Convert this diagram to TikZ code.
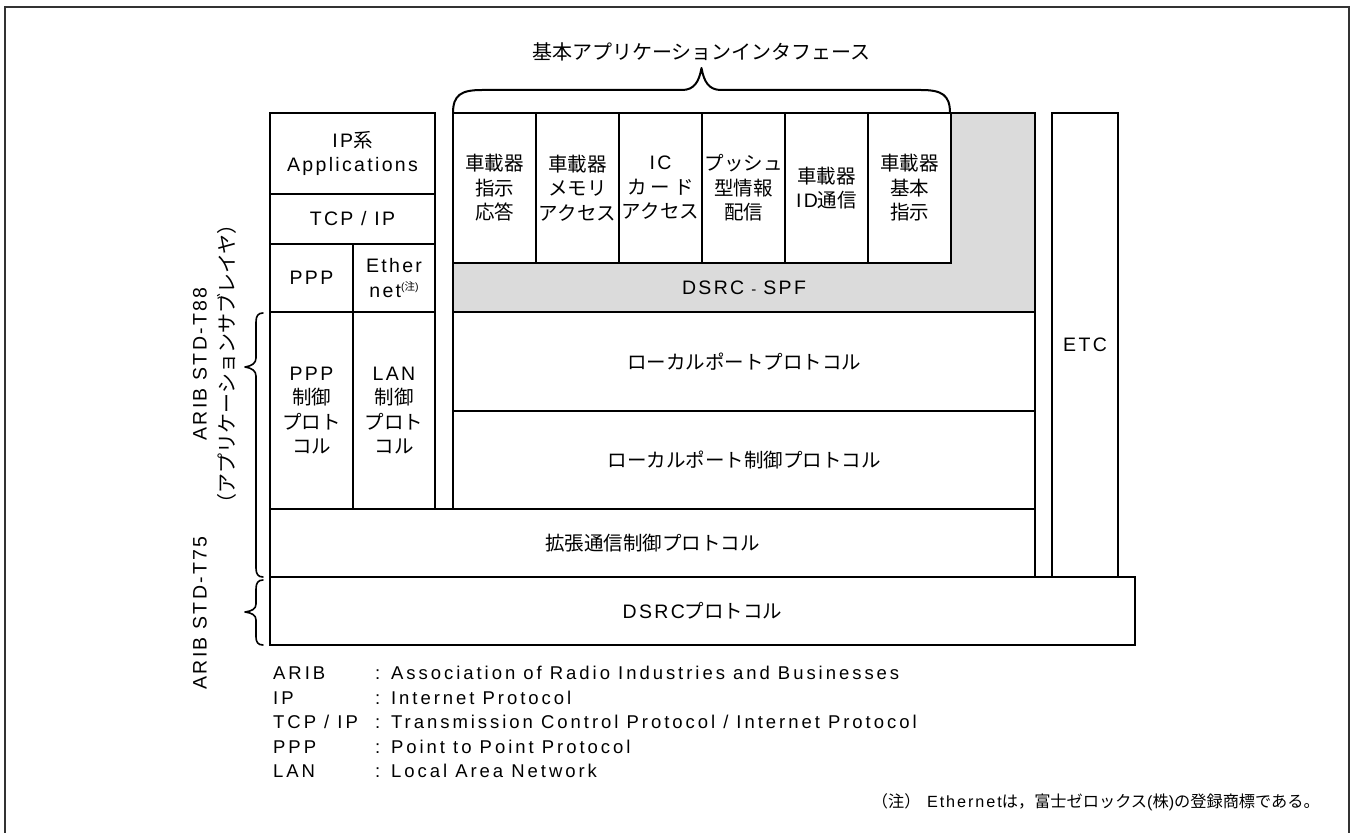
\documentclass[tikz,border=0pt]{standalone}
\usepackage{fontspec}
\setmainfont{Liberation Sans}[LetterSpace=12]
\newfontfamily\lgf{Liberation Sans}[LetterSpace=16]
\newfontfamily\jp{Noto Sans CJK JP}
\newcommand\jj[1]{{\jp #1}}
\begin{document}
\begin{tikzpicture}[x=1pt,y=-1pt,
  box/.style={draw=black, line width=2pt, fill=white, anchor=north west, inner sep=0pt, outer sep=0pt, align=center, font=\fontsize{19.5}{24.5}\selectfont},
  gbox/.style={box, fill=black!14},
  txt/.style={inner sep=0pt, align=center, font=\fontsize{19.5}{24.5}\selectfont},
  vlab/.style={inner sep=0pt, rotate=90, font=\fontsize{19.5}{24}\selectfont},
  lg/.style={inner sep=0pt, anchor=west, font=\lgf\fontsize{18.5}{22}\selectfont},
  brc/.style={line width=1.6pt, line join=round, line cap=round},
  frm/.style={line width=1.5pt, draw=black!80}]
\useasboundingbox (0,0) rectangle (1356,832);
% frame
\draw[frm] (5,845) -- (5,7) -- (1349,7) -- (1349,845);
% left stack
\node[box, minimum width=165, minimum height=81] (ipapp) at (270,113) {IP\jj{系}\\Applications};
\node[box, minimum width=165, minimum height=50] (tcpip) at (270,194) {TCP / IP};
\node[box, minimum width=83, minimum height=68] (ppp) at (270,244) {PPP};
\node[box, minimum width=82, minimum height=68] (ether) at (353,244) {Ether\\net\raisebox{7pt}{\fontsize{10.5}{10}\selectfont(\jj{注})}};
\node[box, minimum width=83, minimum height=197] (pppc) at (270,312) {PPP\\\jj{制御}\\\jj{プロト}\\\jj{コル}};
\node[box, minimum width=82, minimum height=197] (lanc) at (353,312) {LAN\\\jj{制御}\\\jj{プロト}\\\jj{コル}};
% application stack
\node[gbox, minimum width=582, minimum height=199] (spf) at (453,113) {};
\node[txt] (spft) at (744,288) {DSRC\kern7pt{\fontsize{15}{15}\selectfont -}\kern7pt SPF};
\node[box, minimum width=83, minimum height=150] (a1) at (453,113) {\jj{車載器}\\\jj{指示}\\\jj{応答}};
\node[box, minimum width=83, minimum height=150] (a2) at (536,113) {\jj{車載器}\\\jj{メモリ}\\\jj{アクセス}};
\node[box, minimum width=83, minimum height=150] (a3) at (619,113) {IC\\\jj{カ\kern4ptー\kern4ptド}\\\jj{アクセス}};
\node[box, minimum width=83, minimum height=150] (a4) at (702,113) {\jj{プッシュ}\\\jj{型情報}\\\jj{配信}};
\node[box, minimum width=83, minimum height=150] (a5) at (785,113) {\jj{車載器}\\ID\jj{通信}};
\node[box, minimum width=83, minimum height=150] (a6) at (868,113) {\jj{車載器}\\\jj{基本}\\\jj{指示}};
\node[box, minimum width=582, minimum height=99] (lp) at (453,312) {\jj{ローカルポートプロトコル}};
\node[box, minimum width=582, minimum height=98] (lpc) at (453,411) {\jj{ローカルポート制御プロトコル}};
\node[box, minimum width=765, minimum height=68] (ext) at (270,509) {\jj{拡張通信制御プロトコル}};
\node[box, minimum width=66, minimum height=464] (etc) at (1052,113) {ETC};
\node[box, minimum width=865, minimum height=68] (dsrc) at (270,577) {DSRC\jj{プロトコル}};
% top brace and title
\draw[brc, line width=2pt] (453,113) .. controls (453,95) and (461,90) .. (482,90) -- (682,90)
  .. controls (694,90) and (699,82) .. (701.5,68) .. controls (704,82) and (709,90) .. (721,90)
  -- (921,90) .. controls (942,90) and (950,95) .. (950,113);
\node[txt, font=\jp\fontsize{20}{24}\selectfont] (title) at (701.5,52) {基本アプリケーションインタフェース};
% left braces
\draw[brc] (263,313) .. controls (258,313) and (256,316) .. (256,322) -- (256,358)
  .. controls (256,363) and (252,366) .. (245,367) .. controls (252,368) and (256,371) .. (256,376)
  -- (256,568) .. controls (256,574) and (258,577) .. (263,577);
\draw[brc] (263,580) .. controls (258,580) and (256,583) .. (256,589) -- (256,604)
  .. controls (256,609) and (252,611) .. (245,612) .. controls (252,613) and (256,615) .. (256,620)
  -- (256,637) .. controls (256,642) and (258,645) .. (263,645);
\node[vlab] (t88) at (200,364) {ARIB STD-T88};
\node[vlab] (sub) at (227,364) {\jp\fontsize{20}{24}\selectfont （アプリケーションサブレイヤ）};
\node[vlab] (t75) at (200,613) {ARIB STD-T75};
% legend
\node[lg] (k1) at (273,673) {ARIB};
\node[lg] (v1) at (375,673) {: Association of Radio Industries and Businesses};
\node[lg] (k2) at (273,698) {IP};
\node[lg] (v2) at (375,698) {: Internet Protocol};
\node[lg] (k3) at (273,722) {TCP / IP};
\node[lg] (v3) at (375,722) {: Transmission Control Protocol / Internet Protocol};
\node[lg] (k4) at (273,747) {PPP};
\node[lg] (v4) at (375,747) {: Point to Point Protocol};
\node[lg] (k5) at (273,771) {LAN};
\node[lg] (v5) at (375,771) {: Local Area Network};
% footnote
\node[inner sep=0pt, anchor=east, font=\fontsize{16.2}{20}\selectfont] (note) at (1320,802) {\jj{（注）} Ethernet\jj{は，富士ゼロックス}(\jj{株})\jj{の登録商標である。}};
\end{tikzpicture}
\end{document}
